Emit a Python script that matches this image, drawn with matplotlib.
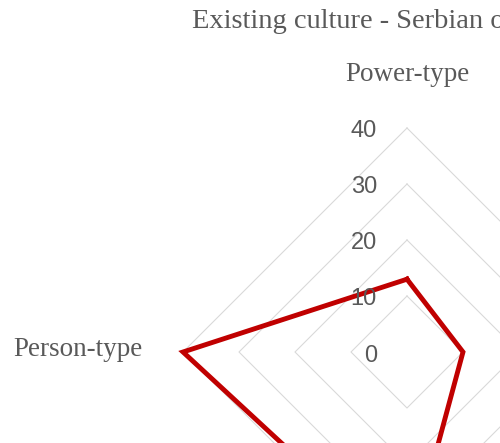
import numpy as np
import matplotlib
matplotlib.use("Agg")
import matplotlib.pyplot as plt
from matplotlib.transforms import offset_copy

title = "Existing culture - Serbian organizations"
categories = ["Power-type", "Role-type", "Task-type", "Person-type"]
values = [13, 10, 37, 40]
r_ticks = [0, 10, 20, 30, 40]

W, H = 500, 443
fig = plt.figure(figsize=(W / 100, H / 100), dpi=100)
fig.patch.set_facecolor("white")
cx, cy, R = 407, 352, 224
ax = fig.add_axes([(cx - R) / W, (H - cy - R) / H, 2 * R / W, 2 * R / H], projection="polar")
ax.set_theta_zero_location("N")
ax.set_theta_direction(-1)
ax.set_ylim(0, r_ticks[-1])
ax.grid(False)
ax.spines["polar"].set_visible(False)
ax.set_xticks([])
ax.set_yticks([])
ax.patch.set_alpha(0)

n = len(categories)
angles = np.linspace(0, 2 * np.pi, n, endpoint=False)
closed = np.append(angles, angles[0])
for r in r_ticks[1:]:
    ax.plot(closed, [r] * (n + 1), color="#d9d9d9", lw=0.8, clip_on=False, zorder=1)

vals = values + values[:1]
ax.plot(closed, vals, color="#c00000", lw=3.5, solid_joinstyle="miter",
        clip_on=False, zorder=3)

tick_font = dict(family="Liberation Sans", fontsize=17, color="#595959")
for r in r_ticks:
    ax.text(0, r, str(r), transform=offset_copy(ax.transData, fig=fig, x=-30, y=-3.5, units="dots"),
            ha="right", va="center", zorder=4, **tick_font)

lab_font = dict(family="Liberation Serif", fontsize=19.5, color="#595959")
# only the category labels that fall inside the visible (cropped) area
visible = {"Power-type": (0, 47, "center", "baseline"),
           "Person-type": (-40, -3.7, "right", "baseline")}
for ang, cat in zip(angles, categories):
    if cat in visible:
        dx, dy, ha, va = visible[cat]
        ax.text(ang, r_ticks[-1], cat,
                transform=offset_copy(ax.transData, fig=fig, x=dx, y=dy, units="dots"),
                ha=ha, va=va, **lab_font)

fig.text(191.5 / W, 1 - 27.7 / H, title, ha="left", va="baseline",
         family="Liberation Serif", fontsize=20.5, color="#595959")

fig.savefig("out.png", dpi=100, facecolor="white")
